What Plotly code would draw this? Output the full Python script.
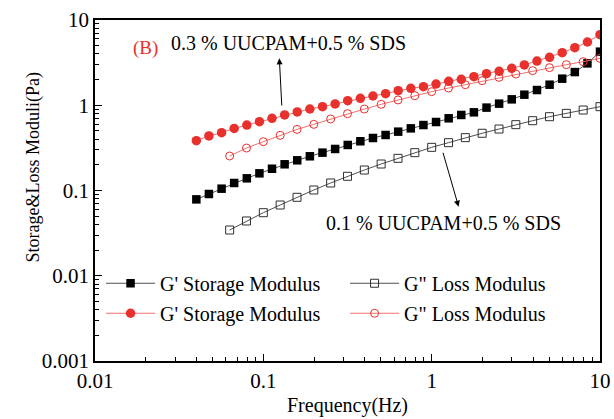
import plotly.graph_objects as go

# Frequencies (Hz)
freq_storage = [0.0400, 0.0475, 0.0565, 0.0671, 0.0798, 0.0948, 0.1126, 0.1338, 0.1590,
                0.1890, 0.2246, 0.2670, 0.3172, 0.3770, 0.4480, 0.5324, 0.6327, 0.7519,
                0.8935, 1.0617, 1.2617, 1.4994, 1.7818, 2.1174, 2.5162, 2.9902, 3.5534,
                4.2227, 5.0180, 5.9632, 7.0864, 8.4212, 10.0]
freq_loss = [0.0631, 0.0794, 0.1, 0.1259, 0.1585, 0.1995, 0.2512, 0.3162, 0.3981, 0.5012,
             0.631, 0.7943, 1.0, 1.259, 1.585, 1.995, 2.512, 3.162, 3.981, 5.012, 6.31,
             7.943, 10.0]

# 0.1 % UUCPAM + 0.5 % SDS
g01_storage = [0.0787, 0.091, 0.105, 0.1225, 0.139, 0.159, 0.180, 0.203, 0.226, 0.252,
               0.278, 0.307, 0.342, 0.378, 0.413, 0.448, 0.490, 0.536, 0.586, 0.636,
               0.703, 0.769, 0.826, 0.938, 1.044, 1.173, 1.330, 1.509, 1.742, 2.05,
               2.45, 3.10, 4.25]
g01_loss = [0.0344, 0.0439, 0.0549, 0.0676, 0.0832, 0.1014, 0.1225, 0.1467, 0.1739,
            0.2045, 0.2384, 0.2778, 0.3209, 0.364, 0.417, 0.469, 0.526, 0.592, 0.659,
            0.734, 0.803, 0.879, 0.962]

# 0.3 % UUCPAM + 0.5 % SDS
g03_storage = [0.384, 0.436, 0.477, 0.535, 0.586, 0.641, 0.703, 0.769, 0.834, 0.904,
               0.962, 1.035, 1.133, 1.206, 1.284, 1.368, 1.483, 1.579, 1.652, 1.775,
               1.909, 2.014, 2.164, 2.346, 2.498, 2.71, 2.97, 3.30, 3.65, 4.14, 4.73,
               5.52, 6.73]
g03_loss = [0.254, 0.315, 0.374, 0.444, 0.521, 0.597, 0.690, 0.796, 0.903, 1.026, 1.153,
            1.296, 1.443, 1.592, 1.742, 1.941, 2.124, 2.326, 2.545, 2.761, 2.993, 3.246,
            3.55]

name_storage = "G' Storage Modulus"
name_loss = 'G" Loss Modulus'
x_ticks = [0.01, 0.1, 1, 10]
x_tick_text = ["0.01", "0.1", "1", "10"]
y_ticks = [0.001, 0.01, 0.1, 1, 10]
y_tick_text = ["0.001", "0.01", "0.1", "1", "10"]

FONT = "Liberation Serif"
RED = "#e8302c"
RED_LINE = "#f07070"
BLACK_LINE = "#505050"

fig = go.Figure()
fig.add_trace(go.Scatter(x=freq_storage, y=g01_storage, mode="lines+markers", name=name_storage,
                         line=dict(color=BLACK_LINE, width=1),
                         marker=dict(symbol="square", size=8.5, color="black"), legend="legend"))
fig.add_trace(go.Scatter(x=freq_loss, y=g01_loss, mode="lines+markers", name=name_loss,
                         line=dict(color=BLACK_LINE, width=1),
                         marker=dict(symbol="square-open", size=8, color="#303030",
                                     line=dict(width=1)), legend="legend"))
fig.add_trace(go.Scatter(x=freq_storage, y=g03_storage, mode="lines+markers", name=name_storage,
                         line=dict(color=RED_LINE, width=1),
                         marker=dict(symbol="circle", size=9.5, color=RED), legend="legend2"))
fig.add_trace(go.Scatter(x=freq_loss, y=g03_loss, mode="lines+markers", name=name_loss,
                         line=dict(color=RED_LINE, width=1),
                         marker=dict(symbol="circle-open", size=8, color=RED,
                                     line=dict(width=1)), legend="legend2"))

minor_vals = []
for dec in [0.001, 0.01, 0.1, 1]:
    for k in range(2, 10):
        minor_vals.append(dec * k)

axis_common = dict(
    type="log", showgrid=False, zeroline=False,
    showline=True, linecolor="black", linewidth=1.5, mirror=True,
    ticks="inside", ticklen=7, tickwidth=1.2, tickcolor="black",
    tickfont=dict(family=FONT, size=21, color="black"),
    minor=dict(tickmode="array", tickvals=minor_vals, ticks="inside", ticklen=4,
               tickwidth=1, tickcolor="black", showgrid=False),
    automargin=False,
)

fig.update_xaxes(**axis_common, range=[-2, 1], tickmode="array",
                 tickvals=x_ticks, ticktext=x_tick_text,
                 title=dict(text="Frequency(Hz)", font=dict(family=FONT, size=20, color="black"),
                            standoff=6))
fig.update_yaxes(**axis_common, range=[-3, 1], tickmode="array",
                 tickvals=y_ticks, ticktext=y_tick_text)

legend_common = dict(orientation="h", bgcolor="rgba(0,0,0,0)",
                     font=dict(family=FONT, size=20, color="black"),
                     entrywidth=180, entrywidthmode="pixels", itemwidth=49,
                     xanchor="left", yanchor="middle", itemsizing="trace",
                     tracegroupgap=0)
fig.update_layout(
    width=614, height=419,
    margin=dict(l=95, r=14, t=20, b=58),
    paper_bgcolor="white", plot_bgcolor="white",
    showlegend=True,
    legend=dict(**legend_common, x=0.012, y=0.228),
    legend2=dict(**legend_common, x=0.012, y=0.14),
    annotations=[
        dict(text="Storage&Loss Moduli(Pa)", xref="paper", yref="paper",
             x=-0.147, y=0.568, textangle=-90, showarrow=False,
             font=dict(family=FONT, size=18, color="black")),
        dict(text="(B)", xref="x", yref="y", x=-1.70, y=0.67, showarrow=False,
             font=dict(family=FONT, size=19, color=RED)),
        dict(text="0.3 % UUCPAM+0.5 % SDS", xref="x", yref="y", x=-0.853, y=0.725,
             showarrow=False, font=dict(family=FONT, size=20, color="black")),
        dict(text="0.1 % UUCPAM+0.5 % SDS", xref="x", yref="y", x=0.073, y=-1.383,
             showarrow=False, font=dict(family=FONT, size=20, color="black")),
        dict(text="", xref="x", yref="y", x=-0.905, y=0.55, axref="x", ayref="y",
             ax=-0.89, ay=-0.02, showarrow=True, arrowhead=2, arrowsize=1.2,
             arrowwidth=1, arrowcolor="black"),
        dict(text="", xref="x", yref="y", x=0.16, y=-1.19, axref="x", ayref="y",
             ax=0.065, ay=-0.54, showarrow=True, arrowhead=2, arrowsize=1.2,
             arrowwidth=1, arrowcolor="black"),
    ],
)

fig.write_html("out.html", config={"displayModeBar": False},
               post_script="document.body.style.margin='0';document.body.style.overflow='hidden';")
